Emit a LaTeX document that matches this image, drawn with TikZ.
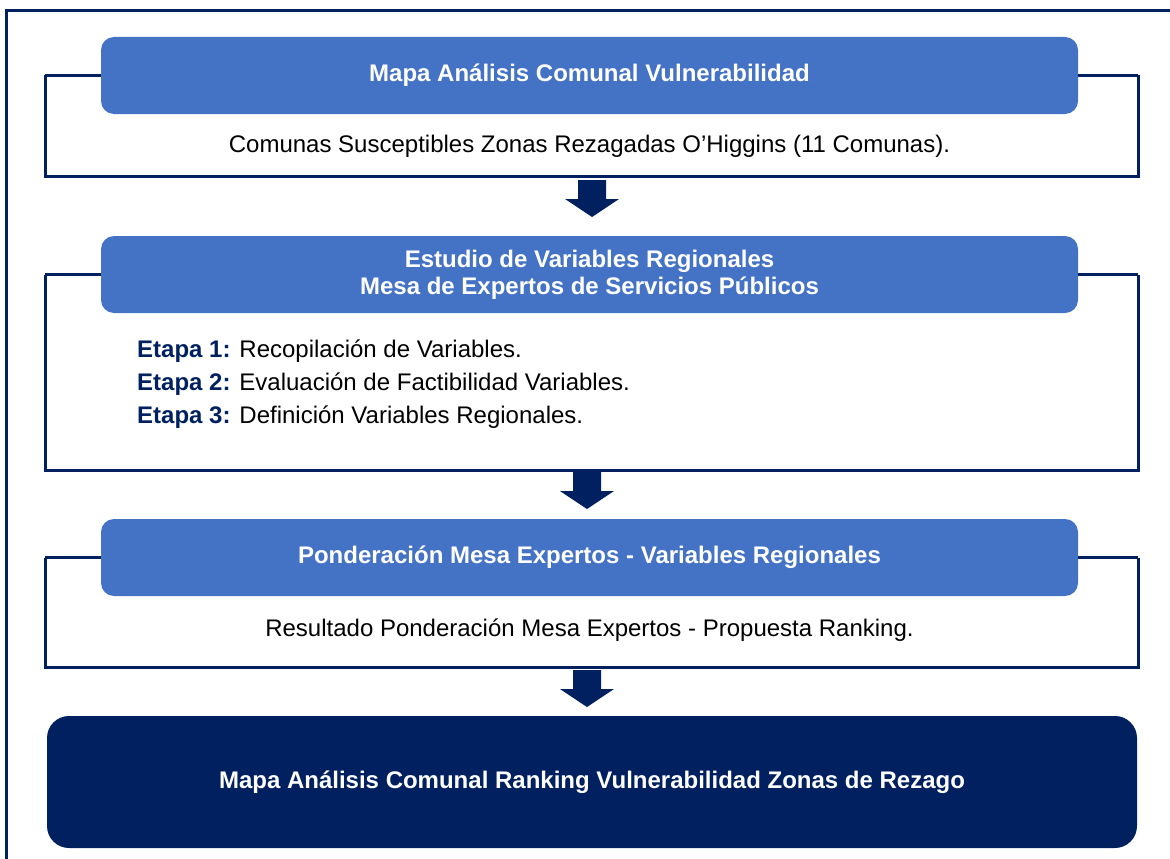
\documentclass[tikz,border=0pt]{standalone}
\usepackage{fontspec}
\setmainfont{Liberation Sans}
\definecolor{boxblue}{HTML}{4472C4}
\definecolor{navy}{HTML}{002060}
\tikzset{
  hdr/.style={draw=none, fill=boxblue, rounded corners=13pt, minimum width=977pt, minimum height=77pt,
    text=white, font=\fontsize{24}{27}\selectfont\bfseries, align=center, inner sep=0pt},
  final/.style={draw=none, fill=navy, rounded corners=22pt, minimum width=1090pt, minimum height=132pt,
    text=white, font=\fontsize{24}{27}\selectfont\bfseries, align=center, inner sep=0pt},
  bodytxt/.style={font=\fontsize{24}{27}\selectfont, text=black, inner sep=0pt},
  bracket/.style={draw=navy, line width=3pt},
  blockarrow/.style={fill=navy, draw=none},
}
\newcommand{\etapa}[1]{\textcolor{navy}{\bfseries Etapa #1:}}
\begin{document}
\begin{tikzpicture}[x=1pt,y=-1pt]
\useasboundingbox (0,0) rectangle (1170,859);
\begin{scope}
\clip (0,0) rectangle (1170,859);
\draw[draw=navy, line width=2.5pt] (6.5,900) -- (6.5,10.5) -- (1200,10.5);
\end{scope}

% brackets
\coordinate (b1l) at (45,75.5);
\coordinate (b1r) at (1138,75.5);
\draw[bracket] (b1l) -- (45,176) -- (1138,176) -- (b1r);
\coordinate (b2l) at (45,274.5);
\coordinate (b2r) at (1138,274.5);
\draw[bracket] (b2l) -- (45,470) -- (1138,470) -- (b2r);
\coordinate (b3l) at (45,557.5);
\coordinate (b3r) at (1138,557.5);
\draw[bracket] (b3l) -- (45,667) -- (1138,667) -- (b3r);

% header boxes
\node[hdr] (h1) at (589.5,75.5) {Mapa Análisis Comunal Vulnerabilidad};
\draw[bracket] (b1l) -- (h1.west);
\draw[bracket] (b1r) -- (h1.east);
\node[bodytxt] (t1) at (589.5,146) {Comunas Susceptibles Zonas Rezagadas O’Higgins (11 Comunas).};

\node[hdr] (h2) at (589.5,274.5) {Estudio de Variables Regionales\\Mesa de Expertos de Servicios Públicos};
\draw[bracket] (b2l) -- (h2.west);
\draw[bracket] (b2r) -- (h2.east);
\node[bodytxt, anchor=west] (e1) at (137,351) {\etapa{1} Recopilación de Variables.};
\node[bodytxt, anchor=west] (e2) at (137,384) {\etapa{2} Evaluación de Factibilidad Variables.};
\node[bodytxt, anchor=west] (e3) at (137,417) {\etapa{3} Definición Variables Regionales.};

\node[hdr] (h3) at (589.5,557.5) {Ponderación Mesa Expertos - Variables Regionales};
\draw[bracket] (b3l) -- (h3.west);
\draw[bracket] (b3r) -- (h3.east);
\node[bodytxt] (t3) at (589.5,630) {Resultado Ponderación Mesa Expertos - Propuesta Ranking.};

\node[final] (h4) at (592,782) {Mapa Análisis Comunal Ranking Vulnerabilidad Zonas de Rezago};

% block arrows
\coordinate (a1) at (592,180);
\coordinate (a2) at (587,472);
\coordinate (a3) at (587,670);
\foreach \a in {a1,a2,a3}{
  \fill[blockarrow] (\a) ++(-14,0) -- ++(28,0) -- ++(0,19) -- ++(13,0) -- ++(-27,18) -- ++(-27,-18) -- ++(13,0) -- cycle;
}
\end{tikzpicture}
\end{document}
